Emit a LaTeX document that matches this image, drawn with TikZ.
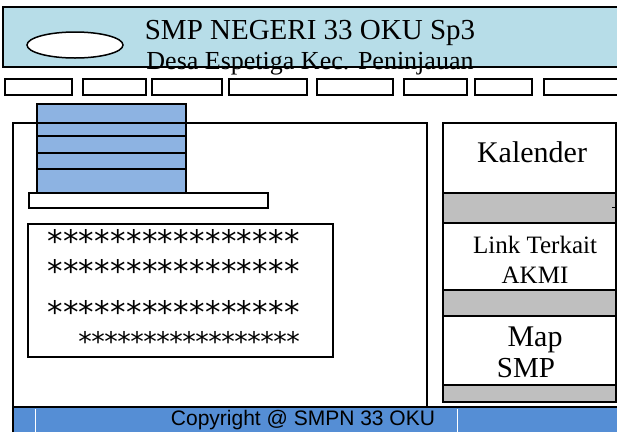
\documentclass[tikz,border=0pt]{standalone}
\usepackage{fontspec}
\setmainfont{Liberation Serif}
\newfontfamily\arialfont{Liberation Sans}
\newfontfamily\starfont{DejaVu Sans}
\definecolor{headblue}{HTML}{B7DDE8}
\definecolor{stackblue}{HTML}{8DB3E2}
\definecolor{sidegray}{HTML}{BFBFBF}
\definecolor{footblue}{HTML}{558ED5}
\newcommand{\fsz}[1]{\fontsize{#1}{#1}\selectfont}

\begin{document}
\begin{tikzpicture}[x=1pt, y=-1pt,
  frame/.style = {draw=black, line width=2pt},
  navbox/.style = {draw=black, line width=1.6pt},
  txt/.style = {inner sep=0pt},
  bigstar/.style = {inner sep=0pt, font=\starfont\fsz{31}},
  smallstar/.style = {inner sep=0pt, font=\starfont\fsz{27}}]
  \useasboundingbox (0,0) rectangle (617,432);
  \clip (0,0) rectangle (617,432);
  % header
  \fill[headblue] (3,7) rectangle (625,67);
  \draw[frame] (625,7) -- (3,7) -- (3,67) -- (625,67);
  \draw[line width=1.5pt, fill=white] (75,45) ellipse (48 and 13);
  \node[txt, font=\fsz{29}] (title) at (310,33) {SMP NEGERI 33 OKU Sp3};
  \node[txt, font=\fsz{26}] (place) at (310,64) {Desa Espetiga Kec. Peninjauan};
  % menu
  \foreach \a/\b in {5/72, 83/146, 152/222, 229/307, 317/393, 404/467, 475/532, 544/625}
    \draw[navbox] (\a,79) rectangle (\b,95);
  % content
  \draw[frame] (13,407) -- (13,123) -- (427,123) -- (427,407);
  \fill[stackblue] (37,104) rectangle (186,192);
  \draw[frame] (37,192) -- (37,104) -- (186,104) -- (186,192);
  \foreach \y in {123, 136, 153, 169}
    \draw[frame] (37,\y) -- (186,\y);
  \draw[frame, fill=white] (29,193) rectangle (268,208);
  \draw[frame, fill=white] (28,224) rectangle (333,357);
  \foreach \r/\y in {1/241, 2/271, 3/312}
    \foreach \i in {0,...,15}
      \node[bigstar] (star\r-\i) at (55+15.8*\i,\y) {*};
  \foreach \i in {0,...,16}
    \node[smallstar] (star4-\i) at (85+13*\i,341) {*};
  % sidebar
  \draw[frame, fill=sidegray] (443,123) rectangle (616,402);
  \draw[frame, fill=white] (443,123) rectangle (616,193);
  \draw[frame, fill=white] (443,223) rectangle (616,290);
  \draw[frame, fill=white] (443,316) rectangle (616,385);
  \draw[line width=1pt] (612,207) -- (617,207);
  \node[txt, font=\fsz{30}] (kalender) at (532,152) {Kalender};
  \node[txt, font=\fsz{25}] (link) at (535,245) {Link Terkait};
  \node[txt, font=\fsz{25}] (akmi) at (535,275) {AKMI};
  \node[txt, font=\fsz{30}] (map) at (535,340) {Map};
  \node[txt, font=\fsz{29}] (smp) at (526,368) {SMP};
  % footer
  \fill[footblue] (13,407) rectangle (625,432);
  \draw[frame] (13,432) -- (13,407) -- (625,407);
  \draw[white, line width=1pt] (35,409) -- (35,432);
  \draw[white, line width=1pt] (457,409) -- (457,432);
  \node[txt, font=\arialfont\fsz{21}] (copy) at (303,420) {Copyright @ SMPN 33 OKU};
\end{tikzpicture}
\end{document}
